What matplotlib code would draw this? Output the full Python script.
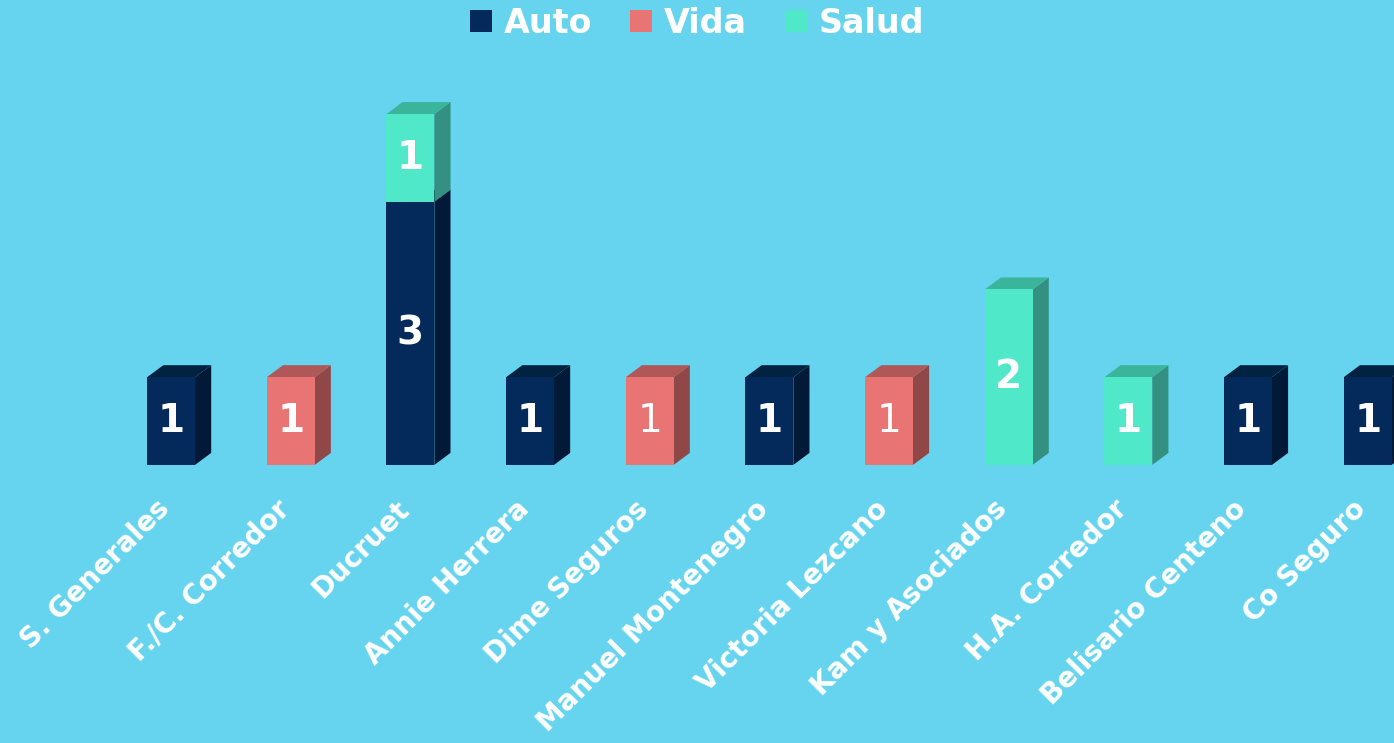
import matplotlib.pyplot as plt
from matplotlib.patches import Polygon, Patch

categories = ['S. Generales', 'F./C. Corredor', 'Ducruet', 'Annie Herrera', 'Dime Seguros',
              'Manuel Montenegro', 'Victoria Lezcano', 'Kam y Asociados', 'H.A. Corredor',
              'Belisario Centeno', 'Co Seguro']
auto = [1, 0, 3, 1, 0, 1, 0, 0, 0, 1, 1]
vida = [0, 1, 0, 0, 1, 0, 1, 0, 0, 0, 0]
salud = [0, 0, 1, 0, 0, 0, 0, 2, 1, 0, 0]
series_names = ['Auto', 'Vida', 'Salud']

bg = '#66d4ef'
# front, side, top colours
colors = {
    'Auto': ('#032a5a', '#021a38', '#022242'),
    'Vida': ('#e87474', '#8f4747', '#b05757'),
    'Salud': ('#4fe8c9', '#349181', '#3ab59b'),
}
thin_labels = {4, 6}  # the two "1"s that are drawn thin in the original

fig = plt.figure(figsize=(13.94, 7.43), dpi=100)
fig.patch.set_facecolor(bg)
ax = fig.add_axes([0, 0, 1, 1])
ax.set_facecolor(bg)
ax.set_xlim(-1.43, 10.22)
ax.set_ylim(-3.17, 5.30)
ax.axis('off')

w = 0.40
dx = 0.135
dy = 0.137

x = list(range(len(categories)))
bottom = [0] * len(categories)
for name, vals in zip(series_names, [auto, vida, salud]):
    front, side, top = colors[name]
    for i, v in enumerate(vals):
        if v == 0:
            continue
        b = bottom[i]
        l, r = i - w / 2, i + w / 2
        ax.add_patch(Polygon([(r, b), (r + dx, b + dy), (r + dx, b + v + dy), (r, b + v)],
                             closed=True, fc=side, ec='none', zorder=2))
        ax.add_patch(Polygon([(l, b + v), (l + dx, b + v + dy), (r + dx, b + v + dy), (r, b + v)],
                             closed=True, fc=top, ec='none', zorder=2))
        ax.bar(i, v, width=w, bottom=b, color=front, zorder=3)
        ax.text(i, b + v / 2, str(v), color='white', fontsize=28,
                fontweight='normal' if (name == 'Vida' and i in thin_labels) else 'bold',
                ha='center', va='center', zorder=4)
        bottom[i] = b + v

for i, cat in enumerate(categories):
    ax.text(i - 0.13, -0.34, cat, rotation=45, rotation_mode='anchor',
            ha='right', va='top', color='white', fontsize=20, fontweight='bold')

handles = [Patch(facecolor=colors[n][0], label=n) for n in series_names]
fig.legend(handles=handles, loc='upper center', bbox_to_anchor=(0.5, 1.031), ncol=3,
           frameon=False, handlelength=0.65, handleheight=0.65, handletextpad=0.35,
           columnspacing=1.15, prop={'size': 24, 'weight': 'bold'}, labelcolor='white')

fig.savefig('out.png', dpi=100, facecolor=bg)
